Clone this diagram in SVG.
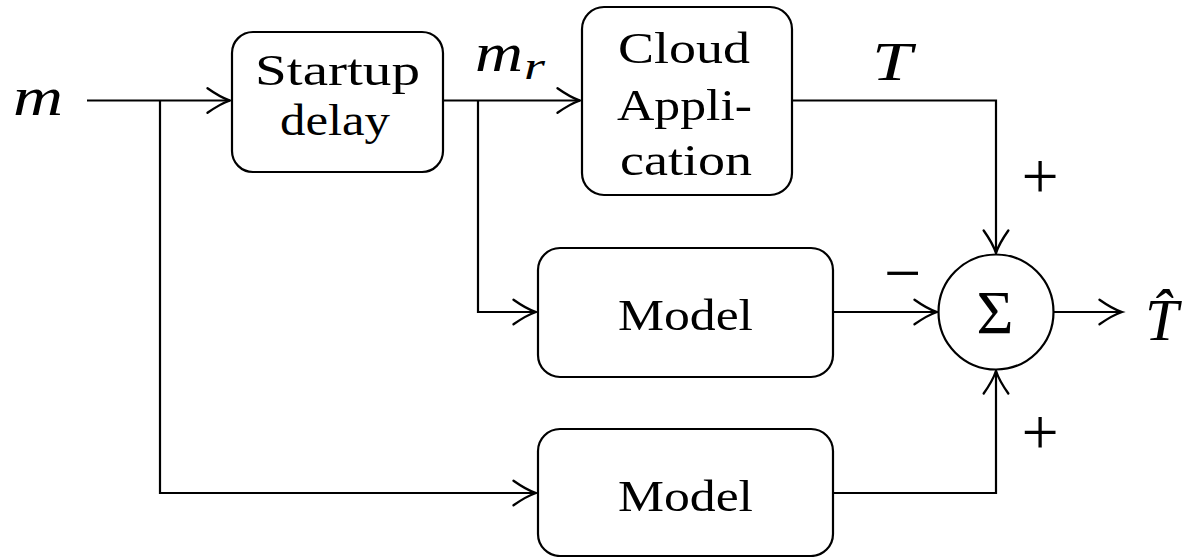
<svg xmlns="http://www.w3.org/2000/svg" width="1183" height="557" viewBox="0 0 1183 557">
<style>
.box{fill:#fff;stroke:#000;stroke-width:2.2}
.wire{fill:none;stroke:#000;stroke-width:2.2;marker-end:url(#arr)}
.t{font-family:"Liberation Serif","Times New Roman",serif;font-size:45px;fill:#000;text-anchor:middle}
.m{font-family:"Liberation Serif","Times New Roman",serif;font-style:italic;font-size:54px;fill:#000}
.op{font-family:"Liberation Serif","Times New Roman",serif;font-size:66px;fill:#000;text-anchor:middle}
</style>
<defs>
<marker id="arr" markerUnits="userSpaceOnUse" markerWidth="30" markerHeight="30" viewBox="-24 -14 28 28" refX="0" refY="0" orient="auto" overflow="visible">
<path d="M-21,-11.5 Q-9,-3 0,0 Q-9,3 -21,11.5" fill="none" stroke="#000" stroke-width="2.2" stroke-linecap="round"/>
</marker>
</defs>
<rect width="1183" height="557" fill="#fff"/>
<g id="connectors">
<path class="wire" d="M87,100.5 H230"/>
<path class="wire" d="M160,100.5 V493 H536"/>
<path class="wire" d="M443,100.5 H580"/>
<path class="wire" d="M478,100.5 V312 H536"/>
<path class="wire" d="M792,100.5 H996 V253"/>
<path class="wire" d="M833,312 H937"/>
<path class="wire" d="M833,493 H996 V371"/>
<path class="wire" d="M1054,312 H1122"/>
</g>
<g id="label-m"><text class="m" x="13" y="115" textLength="50" lengthAdjust="spacingAndGlyphs">m</text></g>
<g id="label-mr"><text class="m" x="475" y="71" textLength="48" lengthAdjust="spacingAndGlyphs">m</text><text class="m" x="524" y="79" style="font-size:38px" textLength="21" lengthAdjust="spacingAndGlyphs">r</text></g>
<g id="label-T"><text class="m" x="872" y="80" textLength="40" lengthAdjust="spacingAndGlyphs">T</text></g>
<g id="startup">
<rect class="box" x="232" y="32" width="211" height="140" rx="21"/>
<text class="t" x="337.5" y="85" textLength="165" lengthAdjust="spacingAndGlyphs">Startup</text>
<text class="t" x="335" y="135" textLength="110" lengthAdjust="spacingAndGlyphs">delay</text>
</g>
<g id="cloud">
<rect class="box" x="582" y="7" width="210" height="188" rx="22"/>
<text class="t" x="684" y="63" textLength="132" lengthAdjust="spacingAndGlyphs">Cloud</text>
<text class="t" x="684.5" y="120" textLength="135" lengthAdjust="spacingAndGlyphs">Appli-</text>
<text class="t" x="686" y="175" textLength="132" lengthAdjust="spacingAndGlyphs">cation</text>
</g>
<g id="model1">
<rect class="box" x="538" y="248" width="295" height="129" rx="22"/>
<text class="t" x="685.5" y="330" textLength="135" lengthAdjust="spacingAndGlyphs">Model</text>
</g>
<g id="model2">
<rect class="box" x="538" y="429" width="295" height="127" rx="22"/>
<text class="t" x="685.5" y="511" textLength="135" lengthAdjust="spacingAndGlyphs">Model</text>
</g>
<g id="sum">
<circle class="box" cx="996" cy="312" r="57.5"/>
<text class="t" x="995" y="333" style="font-size:62px" textLength="37" lengthAdjust="spacingAndGlyphs">Σ</text>
</g>
<g id="signs">
<text class="op" x="1040" y="198">+</text>
<text class="op" x="1040" y="454">+</text>
<text class="op" x="902.5" y="295">−</text>
</g>
<g id="label-That"><text class="m" x="1145" y="340" style="font-size:60px">T̂</text></g>
</svg>
